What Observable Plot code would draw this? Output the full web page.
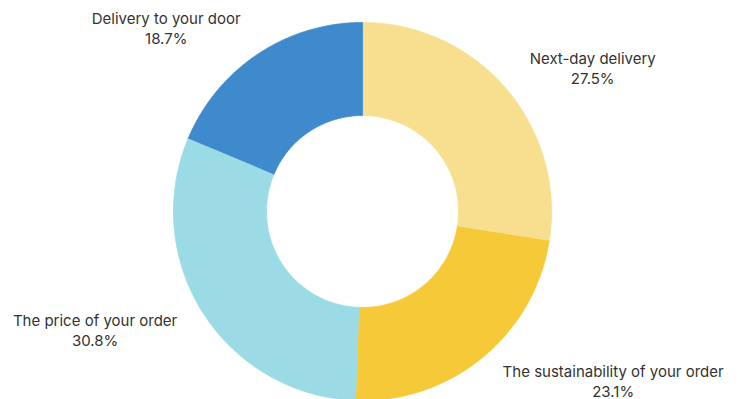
<!DOCTYPE html>
<html><head><meta charset="utf-8">
<script src="https://cdn.jsdelivr.net/npm/d3@7"></script>
<script src="https://cdn.jsdelivr.net/npm/@observablehq/plot@0.6"></script>
<style>body{margin:0;background:#fff;}</style>
</head><body><div id="chart"></div>
<script>
const categories = ["Next-day delivery", "The sustainability of your order", "The price of your order", "Delivery to your door"];
const values = [27.5, 23.1, 30.8, 18.7];
const colors = ["#F8DF8F", "#F5C937", "#9BDBE6", "#3E8ACC"];

const W = 740, H = 399, cx = 362, cy = 211, R = 189, R0 = 96, labelR = 220;
const FONT = "Inter, 'Noto Sans', sans-serif";

const arcs = d3.pie().sort(null).value(d => d)(values);
const pts = [];
arcs.forEach((p, i) => {
  const n = Math.max(8, Math.ceil((p.endAngle - p.startAngle) / (2 * Math.PI) * 400));
  for (let k = 0; k <= n; k++) {
    const a = p.startAngle + (p.endAngle - p.startAngle) * k / n;
    pts.push({key: categories[i], x: R * Math.sin(a), y: R * Math.cos(a)});
  }
  for (let k = n; k >= 0; k--) {
    const a = p.startAngle + (p.endAngle - p.startAngle) * k / n;
    pts.push({key: categories[i], x: R0 * Math.sin(a), y: R0 * Math.cos(a)});
  }
});

const ctx = document.createElement("canvas").getContext("2d");
ctx.font = "15px Inter";
const labels = arcs.map((p, i) => {
  const a = (p.startAngle + p.endAngle) / 2;
  const l1 = categories[i], l2 = values[i].toFixed(1) + "%";
  const w = Math.max(ctx.measureText(l1).width, ctx.measureText(l2).width);
  const side = Math.sin(a) >= 0 ? 1 : -1;
  return {text: l1 + "\n" + l2, x: labelR * Math.sin(a) + side * w / 2, y: labelR * Math.cos(a) + 1};
});

const chart = Plot.plot({
  width: W, height: H, margin: 0,
  x: {domain: [-cx, W - cx], axis: null},
  y: {domain: [-(H - cy), cy], axis: null},
  color: {domain: categories, range: colors},
  style: {fontFamily: FONT, fontSize: "15px", background: "#fff"},
  marks: [
    ...categories.map((c, i) => Plot.line(pts.filter(d => d.key === c), {
      x: "x", y: "y", fill: colors[i], stroke: colors[i], strokeWidth: 0.8, curve: "linear"
    })),
    Plot.text(labels, {x: "x", y: "y", text: "text", textAnchor: "middle", fontSize: 15, fill: "#333", lineHeight: 20 / 15})
  ]
});
document.getElementById("chart").appendChild(chart);
</script>
</body></html>
